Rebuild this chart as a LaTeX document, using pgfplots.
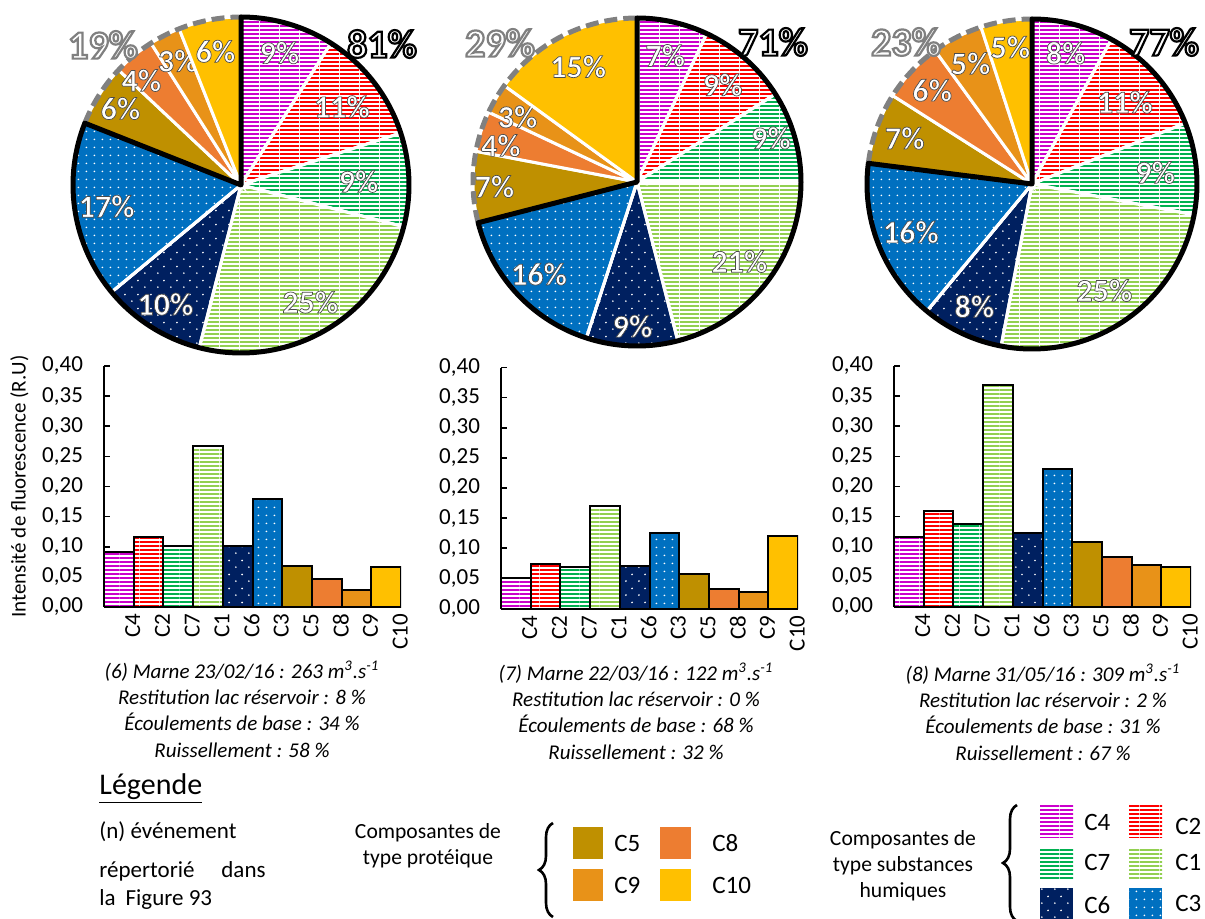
\documentclass[border=0pt]{standalone}
\usepackage{fontspec}
\setmainfont{Carlito}
\usepackage{pgfplots}
\pgfplotsset{compat=1.18}
\usetikzlibrary{patterns,decorations.pathreplacing}

% component colours (Excel-like)
\definecolor{cC4}{RGB}{204,0,204}
\definecolor{cC2}{RGB}{255,0,0}
\definecolor{cC7}{RGB}{0,176,80}
\definecolor{cC1}{RGB}{146,208,80}
\definecolor{cC6}{RGB}{0,32,96}
\definecolor{cC3}{RGB}{0,112,192}
\definecolor{cC5}{RGB}{191,144,0}
\definecolor{cC8}{RGB}{237,125,49}
\definecolor{cC9}{RGB}{232,146,24}
\definecolor{cC10}{RGB}{255,192,0}

\pgfdeclarepatternformonly{hstripes}{\pgfpointorigin}{\pgfpoint{10pt}{2pt}}{\pgfpoint{10pt}{2pt}}{%
  \pgfpathrectangle{\pgfpointorigin}{\pgfpoint{10pt}{1.1pt}}\pgfusepath{fill}}
\pgfdeclarepatternformonly{sparsedots}{\pgfpointorigin}{\pgfpoint{6.5pt}{7pt}}{\pgfpoint{6.5pt}{7pt}}{%
  \pgfpathcircle{\pgfpoint{1pt}{1pt}}{0.5pt}\pgfpathcircle{\pgfpoint{4.25pt}{4.5pt}}{0.5pt}\pgfusepath{fill}}
\pgfdeclarepatternformonly{densedots}{\pgfpointorigin}{\pgfpoint{3.75pt}{4pt}}{\pgfpoint{3.75pt}{4pt}}{%
  \pgfpathcircle{\pgfpoint{1.8pt}{2pt}}{0.5pt}\pgfusepath{fill}}

% order of the components: C4 C2 C7 C1 C6 C3 C5 C8 C9 C10
\tikzset{
  slice1/.style={fill=white, postaction={pattern=hstripes, pattern color=cC4}},
  slice2/.style={fill=white, postaction={pattern=hstripes, pattern color=cC2}},
  slice3/.style={fill=white, postaction={pattern=hstripes, pattern color=cC7}},
  slice4/.style={fill=white, postaction={pattern=hstripes, pattern color=cC1}},
  slice5/.style={fill=cC6, postaction={pattern=sparsedots, pattern color=white}},
  slice6/.style={fill=cC3, postaction={pattern=densedots, pattern color=white}},
  slice7/.style={fill=cC5},
  slice8/.style={fill=cC8},
  slice9/.style={fill=cC9},
  slice10/.style={fill=cC10},
  pielabel/.style={text=white, inner sep=0pt, font=\fontsize{16}{16}\selectfont\bfseries},
  biglabel/.style={text=white, inner sep=0pt, font=\fontsize{20}{20}\selectfont\bfseries},
}
% white text with a stroked outline (text render mode 2)
\newcommand\outl[3]{\special{pdf:literal direct #2 RG #1 w 2 Tr}#3\special{pdf:literal direct 0 Tr}}
\newcommand\pielab[1]{\outl{0.35}{0.3 0.3 0.3}{#1\%}}
\newcommand\biglab[2]{\outl{1.1}{#1}{#2\%}}

\pgfplotsset{
  pieax/.style={hide axis, scale only axis, clip=false, anchor=center,
    xmin=-1, xmax=1, ymin=-1, ymax=1},
  barax/.style={scale only axis, width=148.5pt, height=120.5pt, anchor=south west,
    xmin=-0.5, xmax=9.5, ymin=0, ymax=0.4,
    ybar, bar width=1,
    axis x line*=bottom, axis y line*=left,
    axis line style={-, line width=1pt},
    xtick={0,...,9},
    xticklabels={C4,C2,C7,C1,C6,C3,C5,C8,C9,C10},
    xticklabel style={rotate=90, anchor=east, font=\fontsize{11.5}{12}\selectfont, yshift=-7pt},
    xtick style={draw=none},
    ytick={0,0.05,0.1,0.15,0.2,0.25,0.3,0.35,0.4},
    tick align=inside, major tick length=3pt,
    ytick style={line width=0.8pt, black},
    yticklabel style={font=\fontsize{11.5}{12}\selectfont, xshift=-7pt},
    ylabel style={font=\fontsize{10.5}{12}\selectfont},
    /pgf/number format/fixed, /pgf/number format/fixed zerofill,
    /pgf/number format/precision=2, /pgf/number format/use comma,
    /pgf/number format/assume math mode=true},
}

% pie: one sector per percentage (value/label radius/label angle offset),
% clockwise from 12 o'clock
\newcommand\drawpie[1]{%
  \xdef\pcum{0}%
  \foreach \v/\r/\d [count=\i] in {#1} {%
    \pgfmathsetmacro\pa{\pcum}%
    \pgfmathsetmacro\pb{\pcum+\v}%
    \pgfmathsetmacro\pmid{90-1.8*(\pa+\pb)+\d}%
    \pgfmathsetmacro\lx{\r*cos(\pmid)}%
    \pgfmathsetmacro\ly{\r*sin(\pmid)}%
    \edef\temp{%
      \noexpand\addplot[slice\i, draw=white, line width=1.5pt, domain=\pa:\pb, samples=50]
        ({cos(90-3.6*x)},{sin(90-3.6*x)}) -- (axis cs:0,0) -- cycle;
      \noexpand\node[pielabel] at (axis cs:\lx,\ly) {\noexpand\pielab{\v}};
    }\temp
    \xdef\pcum{\pb}%
  }}
% group outlines: humic (black) and protein (dashed grey)
\newcommand\pieoutline[1]{%
  \addplot[draw=gray, line width=2.5pt, dash pattern=on 6.5pt off 3pt, domain=#1:100, samples=60]
    ({cos(90-3.6*x)},{sin(90-3.6*x)});
  \addplot[draw=black, line width=2.5pt, line join=round, domain=0:#1, samples=160]
    ({cos(90-3.6*x)},{sin(90-3.6*x)}) -- (axis cs:0,0) -- cycle;
}
% bars: one per component
\newcommand\drawbars[1]{%
  \foreach \v [count=\i] in {#1} {%
    \pgfmathtruncatemacro\xi{\i-1}%
    \edef\temp{\noexpand\addplot[slice\i, draw=black, line width=1pt, bar shift=0pt]
      coordinates {(\xi,\v)};}\temp
  }}

\begin{document}
\begin{tikzpicture}
\useasboundingbox (0,0) rectangle (602.5pt,-459.5pt);

% ---- pies ----
\begin{axis}[pieax, width=168pt, height=168pt, at={(120.5pt,-92.5pt)}]
  \drawpie{9/0.82/0, 11/0.76/0, 9/0.70/0, 25/0.81/0, 10/0.84/0,
           17/0.81/0, 6/0.85/0, 4/0.86/4, 3/0.83/0, 6/0.81/0}
  \pieoutline{81}
\end{axis}
\begin{axis}[pieax, width=164pt, height=164pt, at={(318.5pt,-91pt)}]
  \drawpie{7/0.79/0, 9/0.79/0, 9/0.86/2, 21/0.79/0, 9/0.88/0,
           16/0.82/0, 7/0.87/0, 4/0.86/3, 3/0.83/2, 15/0.79/0}
  \pieoutline{71}
\end{axis}
\begin{axis}[pieax, width=165pt, height=165pt, at={(516pt,-92pt)}]
  \drawpie{8/0.82/0, 11/0.75/0, 9/0.75/0, 25/0.78/0, 8/0.82/0,
           16/0.79/0, 7/0.82/0, 6/0.83/0, 5/0.82/0, 5/0.84/0}
  \pieoutline{77}
\end{axis}

% ---- bars ----
\begin{axis}[barax, at={(52pt,-303.5pt)}, ylabel={Intensité de fluorescence (R.U)}]
  \drawbars{0.091,0.116,0.101,0.267,0.102,0.179,0.068,0.047,0.028,0.066}
\end{axis}
\begin{axis}[barax, at={(250.5pt,-304.25pt)}]
  \drawbars{0.051,0.074,0.069,0.170,0.070,0.126,0.058,0.033,0.027,0.121}
\end{axis}
\begin{axis}[barax, at={(447pt,-303.5pt)}]
  \drawbars{0.116,0.159,0.137,0.369,0.123,0.229,0.108,0.083,0.070,0.067}
\end{axis}

\begin{scope}[x=0.5pt, y=-0.5pt]
  % group percentages
  \node[biglabel] at (103,45) {\biglab{0.5 0.5 0.5}{19}};
  \node[biglabel] at (382,44) {\biglab{0 0 0}{81}};
  \node[biglabel] at (500,43) {\biglab{0.5 0.5 0.5}{29}};
  \node[biglabel] at (773,42) {\biglab{0 0 0}{71}};
  \node[biglabel] at (906,42) {\biglab{0.5 0.5 0.5}{23}};
  \node[biglabel] at (1164,42) {\biglab{0 0 0}{77}};

  % captions
  \begin{scope}[every node/.style={align=center, font=\fontsize{10.5}{13.2}\selectfont\itshape}]
  \node at (242,709) {(6) Marne 23/02/16 : 263 m\textsuperscript{3}.s\textsuperscript{-1}\\
    Restitution lac réservoir : 8 \%\\ Écoulements de base : 34 \%\\ Ruissellement : 58 \%};
  \node at (636,711) {(7) Marne 22/03/16 : 122 m\textsuperscript{3}.s\textsuperscript{-1}\\
    Restitution lac réservoir : 0 \%\\ Écoulements de base : 68 \%\\ Ruissellement : 32 \%};
  \node at (1043,712) {(8) Marne 31/05/16 : 309 m\textsuperscript{3}.s\textsuperscript{-1}\\
    Restitution lac réservoir : 2 \%\\ Écoulements de base : 31 \%\\ Ruissellement : 67 \%};
  \end{scope}

  % legend
  \node[anchor=base west, inner sep=0pt, font=\fontsize{15}{15}\selectfont] at (99,794) {\underline{Légende}};
  \begin{scope}[every node/.style={inner sep=0pt, font=\fontsize{11.5}{12}\selectfont}]
  \node[anchor=base west] at (99,838) {(n) événement};
  \node[anchor=base west] at (99,877) {répertorié};
  \node[anchor=base east] at (266,877) {dans};
  \node[anchor=base west] at (99,905) {la\hspace{5pt}Figure 93};
  \end{scope}

  \begin{scope}[every node/.style={inner sep=0pt, align=center, font=\fontsize{10.8}{13}\selectfont}]
  \node at (428,846) {Composantes de\\type protéique};
  \node at (903,866) {Composantes de\\type substances\\humiques};
  \end{scope}

  \draw[decorate, decoration={brace, amplitude=7pt}, line width=1.3pt] (553,917) -- (553,823);
  \draw[decorate, decoration={brace, amplitude=7pt}, line width=1.3pt] (1017,921) -- (1017,805);

  % legend swatches
  \path[slice7]  (573,827) rectangle (603,859);
  \path[slice8]  (660,827) rectangle (691,859);
  \path[slice9]  (573,869) rectangle (603,901);
  \path[slice10] (660,869) rectangle (691,901);
  \path[slice1]  (1040,805) rectangle (1073,837);
  \path[slice2]  (1129,805) rectangle (1162,837);
  \path[slice3]  (1040,847) rectangle (1073,878);
  \path[slice4]  (1129,847) rectangle (1162,878);
  \path[slice5]  (1040,888) rectangle (1073,919);
  \path[slice6]  (1129,888) rectangle (1162,919);
  \begin{scope}[every node/.style={inner sep=0pt, anchor=west, font=\fontsize{12.5}{13}\selectfont}]
  \node at (614,843) {C5};
  \node at (712,843) {C8};
  \node at (614,885) {C9};
  \node at (712,885) {C10};
  \node at (1084,822) {C4};
  \node at (1175,826) {C2};
  \node at (1084,862) {C7};
  \node at (1175,862) {C1};
  \node at (1084,905) {C6};
  \node at (1175,903) {C3};
  \end{scope}
\end{scope}
\end{tikzpicture}
\end{document}
